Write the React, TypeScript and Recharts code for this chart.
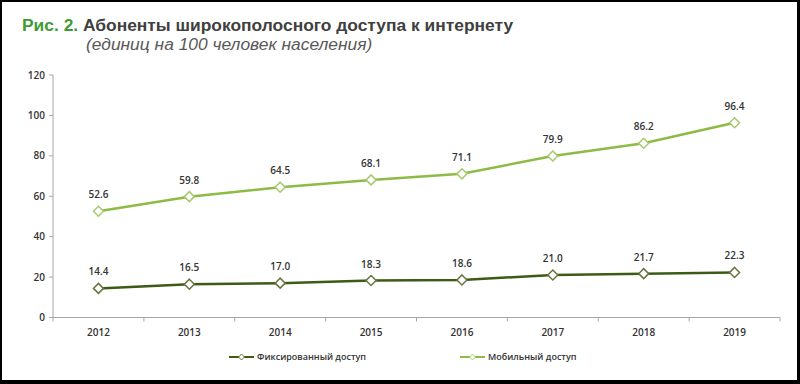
import React from "react";
import { LineChart, Line, XAxis, YAxis, LabelList } from "recharts";

const years = ["2012", "2013", "2014", "2015", "2016", "2017", "2018", "2019"];
const mobile = [52.6, 59.8, 64.5, 68.1, 71.1, 79.9, 86.2, 96.4];
const fixed = [14.4, 16.5, 17.0, 18.3, 18.6, 21.0, 21.7, 22.3];
const yTicks = [0, 20, 40, 60, 80, 100, 120];
const seriesNames = { fixed: "Фиксированный доступ", mobile: "Мобильный доступ" };

const FIXED_LINE = "#3d5b16";
const FIXED_MARK = "#66753f";
const MOBILE_LINE = "#8dbb45";
const MOBILE_MARK = "#a7c96c";
const AXIS = "#a6a6a6";
const TEXT = "#333333";
const FONT = "'Open Sans', sans-serif";
const X_TICK = 4;
const X_GAP = 7;

const chartData = years.map((y, i) => ({ year: y, fixed: fixed[i], mobile: mobile[i] }));

// eslint-disable-next-line @typescript-eslint/no-explicit-any
function Diamond({ cx, cy, stroke }: any) {
  if (cx == null || cy == null) return null;
  const r = 5;
  return (
    <polygon
      points={`${cx},${cy - r} ${cx + r},${cy} ${cx},${cy + r} ${cx - r},${cy}`}
      fill="#fff"
      stroke={stroke}
      strokeWidth={1.5}
    />
  );
}

// year label, plus the Excel-style tick marks between the categories
// eslint-disable-next-line @typescript-eslint/no-explicit-any
function YearTick({ x, y, payload, index }: any) {
  const off = payload?.offset ?? 0;
  const top = y - X_TICK - X_GAP;
  return (
    <g>
      <line x1={x + off} x2={x + off} y1={top} y2={top + X_TICK} stroke={AXIS} />
      {index === 0 && <line x1={x - off} x2={x - off} y1={top} y2={top + X_TICK} stroke={AXIS} />}
      <text
        x={x}
        y={y}
        dy="0.71em"
        textAnchor="middle"
        fill={TEXT}
        fontSize={10}
        fontWeight={600}
        fontFamily={FONT}
      >
        {payload.value}
      </text>
    </g>
  );
}

function LegendItem({ color, mark, label, left }: { color: string; mark: string; label: string; left: number }) {
  return (
    <span style={{ position: "absolute", left, top: 350, display: "flex", alignItems: "center", gap: 3 }}>
      <svg width={25} height={8}>
        <line x1={0} y1={4} x2={25} y2={4} stroke={color} strokeWidth={2} />
        <polygon points="12.5,1 15.5,4 12.5,7 9.5,4" fill="#fff" stroke={mark} strokeWidth={1} />
      </svg>
      <span>{label}</span>
    </span>
  );
}

export default function App() {
  const tickStyle = { fill: TEXT, fontSize: 10, fontWeight: 600, fontFamily: FONT };
  return (
    <div
      style={{
        position: "fixed",
        left: 0,
        top: 0,
        width: 800,
        height: 384,
        background: "#fff",
        overflow: "hidden",
      }}
    >
      <div
        style={{
          position: "absolute",
          left: 22,
          top: 17,
          fontFamily: "'Liberation Sans', Arial, sans-serif",
          fontWeight: 700,
          fontSize: 17.4,
          lineHeight: 1,
          color: "#404040",
          whiteSpace: "nowrap",
        }}
      >
        <span style={{ color: "#3f9a36" }}>Рис. 2.</span> Абоненты широкополосного доступа к интернету
      </div>
      <div
        style={{
          position: "absolute",
          left: 86,
          top: 35.5,
          fontFamily: "'Liberation Sans', Arial, sans-serif",
          fontStyle: "italic",
          fontSize: 17.4,
          lineHeight: 1,
          color: "#595959",
          whiteSpace: "nowrap",
        }}
      >
        (единиц на 100 человек населения)
      </div>

      <div style={{ position: "absolute", left: 0, top: 0 }}>
        <LineChart
          width={800}
          height={384}
          data={chartData}
          margin={{ top: 75, right: 20, bottom: 36.5, left: 8 }}
        >
          <XAxis
            dataKey="year"
            scale="band"
            height={30}
            tickLine={false}
            axisLine={{ stroke: AXIS }}
            tickSize={X_TICK}
            tickMargin={X_GAP}
            tick={<YearTick />}
            interval={0}
          />
          <YAxis
            domain={[0, 120]}
            ticks={yTicks}
            width={45}
            tickSize={4}
            tickMargin={4}
            tick={tickStyle}
            tickLine={{ stroke: AXIS }}
            axisLine={{ stroke: AXIS }}
          />
          <Line
            dataKey="fixed"
            name={seriesNames.fixed}
            stroke={FIXED_LINE}
            strokeWidth={2.5}
            dot={<Diamond stroke={FIXED_MARK} />}
            activeDot={false}
            isAnimationActive={false}
          >
            <LabelList
              dataKey="fixed"
              position="top"
              offset={13}
              formatter={(v: number) => v.toFixed(1)}
              style={tickStyle}
            />
          </Line>
          <Line
            dataKey="mobile"
            name={seriesNames.mobile}
            stroke={MOBILE_LINE}
            strokeWidth={2.5}
            dot={<Diamond stroke={MOBILE_MARK} />}
            activeDot={false}
            isAnimationActive={false}
          >
            <LabelList
              dataKey="mobile"
              position="top"
              offset={13}
              formatter={(v: number) => v.toFixed(1)}
              style={tickStyle}
            />
          </Line>
        </LineChart>
      </div>

      <div
        style={{
          fontFamily: FONT,
          fontSize: 9,
          fontWeight: 600,
          color: TEXT,
          lineHeight: "14px",
        }}
      >
        <LegendItem left={229} color={FIXED_LINE} mark={FIXED_MARK} label={seriesNames.fixed} />
        <LegendItem left={460} color={MOBILE_LINE} mark={MOBILE_MARK} label={seriesNames.mobile} />
      </div>

      <div
        style={{
          position: "absolute",
          inset: 0,
          borderStyle: "solid",
          borderColor: "#000",
          borderWidth: "2px 3px 4px 2px",
          pointerEvents: "none",
        }}
      />
    </div>
  );
}
